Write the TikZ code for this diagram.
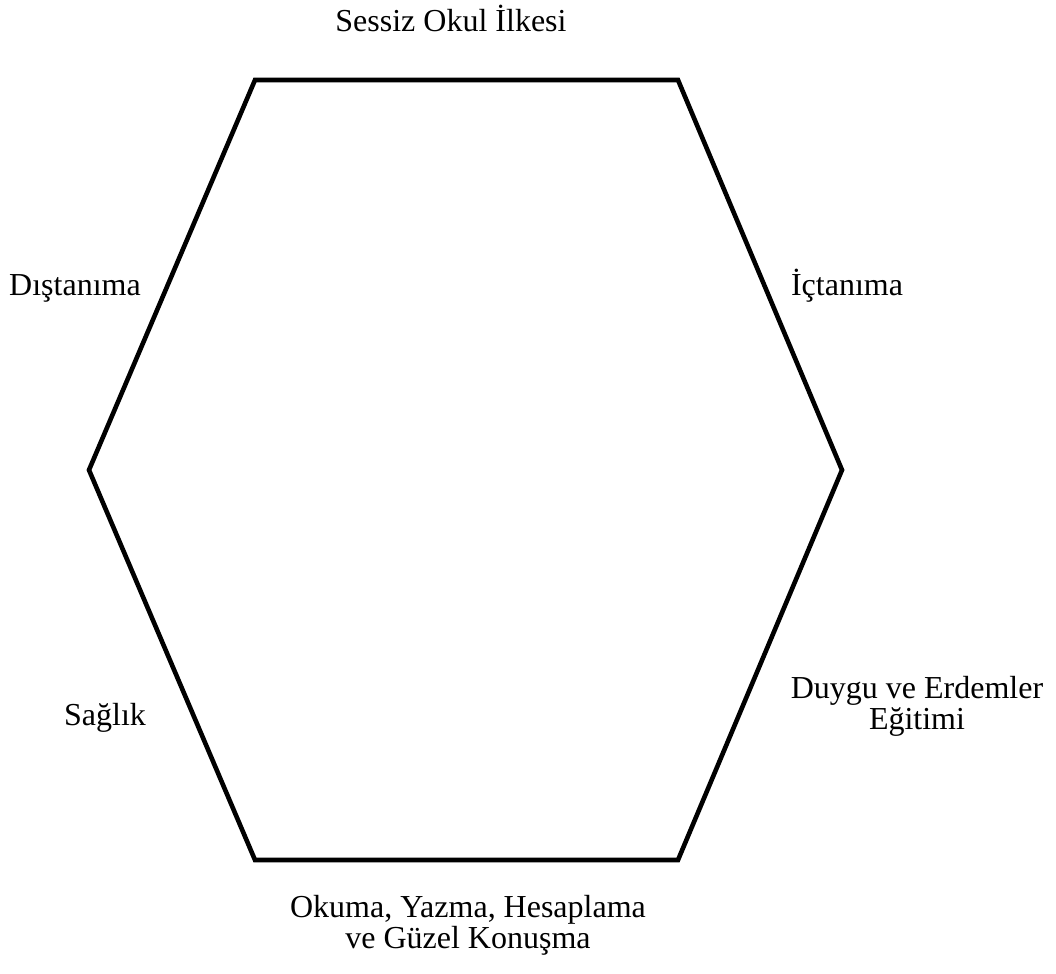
\documentclass[tikz,border=0pt]{standalone}
\usepackage{fontspec}
\setmainfont{Liberation Serif}
\usepackage{tikz}
\usetikzlibrary{positioning}
\tikzset{
  hexline/.style={draw=black, line width=2.3pt, line join=miter},
  lbl/.style={font=\fontsize{16}{13.6}\selectfont, inner sep=0pt, align=center},
}

\begin{document}
\begin{tikzpicture}[x=0.5pt,y=-0.5pt]
\useasboundingbox (0,0) rectangle (1056,974);

% corners of the hexagon
\coordinate (tl) at (255,80);
\coordinate (tr) at (678,80);
\coordinate (rr) at (842,470);
\coordinate (br) at (678,860);
\coordinate (bl) at (255,860);
\coordinate (ll) at (89,470);

\draw[hexline] (tl) -- (tr) -- (rr) -- (br) -- (bl) -- (ll) -- cycle;

\node[lbl, anchor=base] (top)   at (451,32)  {Sessiz Okul İlkesi};
\node[lbl, anchor=base] (dis)   at (75,295)  {Dıştanıma};
\node[lbl, anchor=base] (ic)    at (847,295) {İçtanıma};
\node[lbl, anchor=base] (sag)   at (105,725) {Sağlık};
\node[lbl]              (duygu) at (917,706) {Duygu ve Erdemler\\Eğitimi};
\node[lbl]              (okuma) at (468,925) {Okuma, Yazma, Hesaplama\\ve Güzel Konuşma};
\end{tikzpicture}
\end{document}
